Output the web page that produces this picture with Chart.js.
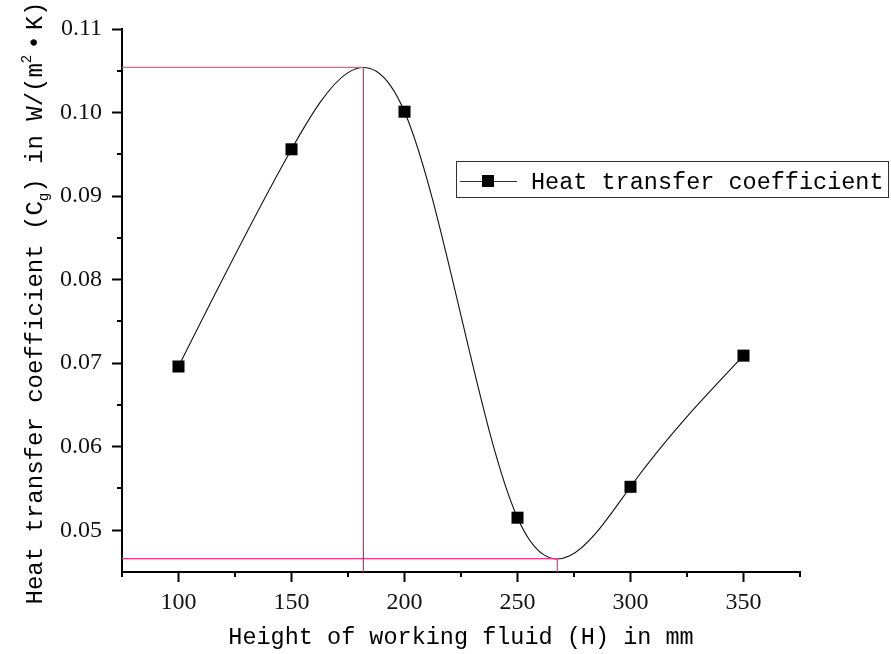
<!DOCTYPE html>
<html>
<head>
<meta charset="utf-8">
<script src="https://cdn.jsdelivr.net/npm/chart.js@4.4.0/dist/chart.umd.min.js"></script>
<style>
  html, body { margin: 0; padding: 0; background: #fff; }
  #wrap { width: 891px; height: 654px; position: relative; }
</style>
</head>
<body>
<div id="wrap"><canvas id="chart"></canvas></div>
<script>
// values
const heights = [100, 150, 200, 250, 300, 350];
const coefficients = [0.0696, 0.0956, 0.1001, 0.0515, 0.0552, 0.0709];

// maximum and minimum of the fitted curve (drop lines)
const peakH = 181.8, peakC = 0.1054;
const troughH = 267.6, troughC = 0.0466;

const xRange = [75, 375];
const yRange = [0.045, 0.11];
const xTicks = [100, 150, 200, 250, 300, 350];
const xMinorTicks = [75, 125, 175, 225, 275, 325, 375];
const yTicks = [0.05, 0.06, 0.07, 0.08, 0.09, 0.10, 0.11];
const yMinorTicks = [0.055, 0.065, 0.075, 0.085, 0.095, 0.105];

const monoFont = 'Liberation Mono';

// natural cubic spline second derivatives
function naturalSpline(xs, ys) {
  const n = xs.length;
  const h = [];
  for (let i = 0; i < n - 1; i++) h.push(xs[i + 1] - xs[i]);
  const a = [], b = [], c = [], d = [];
  for (let i = 1; i < n - 1; i++) {
    a.push(h[i - 1]);
    b.push(2 * (h[i - 1] + h[i]));
    c.push(h[i]);
    d.push(6 * ((ys[i + 1] - ys[i]) / h[i] - (ys[i] - ys[i - 1]) / h[i - 1]));
  }
  const k = d.length;
  for (let i = 1; i < k; i++) {
    const w = a[i] / b[i - 1];
    b[i] -= w * c[i - 1];
    d[i] -= w * d[i - 1];
  }
  const sol = new Array(k);
  sol[k - 1] = d[k - 1] / b[k - 1];
  for (let i = k - 2; i >= 0; i--) sol[i] = (d[i] - c[i] * sol[i + 1]) / b[i];
  const m = new Array(n).fill(0);
  for (let i = 0; i < k; i++) m[i + 1] = sol[i];
  return { h, m };
}

const curvePlugin = {
  id: 'curve',
  beforeDatasetsDraw(chart) {
    const { ctx, scales: { x, y } } = chart;
    const { h, m } = naturalSpline(heights, coefficients);
    ctx.save();
    ctx.beginPath();
    ctx.moveTo(x.getPixelForValue(heights[0]), y.getPixelForValue(coefficients[0]));
    for (let i = 0; i < heights.length - 1; i++) {
      const x0 = heights[i], x1 = heights[i + 1];
      const y0 = coefficients[i], y1 = coefficients[i + 1];
      const hi = h[i];
      const slope = (y1 - y0) / hi;
      const s0 = slope - hi * (2 * m[i] + m[i + 1]) / 6;
      const s1 = slope + hi * (m[i] + 2 * m[i + 1]) / 6;
      ctx.bezierCurveTo(
        x.getPixelForValue(x0 + hi / 3), y.getPixelForValue(y0 + s0 * hi / 3),
        x.getPixelForValue(x1 - hi / 3), y.getPixelForValue(y1 - s1 * hi / 3),
        x.getPixelForValue(x1), y.getPixelForValue(y1)
      );
    }
    ctx.lineWidth = 1.1;
    ctx.strokeStyle = '#111';
    ctx.stroke();
    ctx.restore();
  }
};

const decorPlugin = {
  id: 'decor',
  afterDraw(chart) {
    const { ctx, chartArea, scales: { x, y } } = chart;
    ctx.save();

    // minor ticks
    ctx.strokeStyle = '#000';
    ctx.lineWidth = 2;
    ctx.beginPath();
    xMinorTicks.forEach(v => {
      const px = Math.round(x.getPixelForValue(v));
      ctx.moveTo(px, chartArea.bottom);
      ctx.lineTo(px, chartArea.bottom + 5);
    });
    yMinorTicks.forEach(v => {
      const py = Math.round(y.getPixelForValue(v));
      ctx.moveTo(chartArea.left, py);
      ctx.lineTo(chartArea.left - 5, py);
    });
    ctx.stroke();

    // y axis title with subscript / superscript
    const runs = [
      { t: 'Heat transfer coefficient (C', size: 24, dy: 0 },
      { t: 'g', size: 14, dy: 6 },
      { t: ') in W/(m', size: 24, dy: 0 },
      { t: '2', size: 14, dy: -11 },
      { t: '•', size: 24, dy: 0, gap: 5 },
      { t: 'K)', size: 24, dy: 0, gap: 5 }
    ];
    let total = 0;
    runs.forEach(r => {
      ctx.font = r.size + 'px "' + monoFont + '"';
      r.w = ctx.measureText(r.t).width;
      total += r.w + (r.gap || 0);
    });
    ctx.translate(42, 303);
    ctx.rotate(-Math.PI / 2);
    ctx.fillStyle = '#000';
    ctx.textBaseline = 'alphabetic';
    let pos = -total / 2;
    runs.forEach(r => {
      pos += (r.gap || 0);
      ctx.font = r.size + 'px "' + monoFont + '"';
      ctx.fillText(r.t, pos, r.dy);
      pos += r.w;
    });
    ctx.setTransform(1, 0, 0, 1, 0, 0);

    // legend
    ctx.lineWidth = 1;
    ctx.strokeStyle = '#333';
    ctx.strokeRect(456.5, 161.5, 432, 36);
    ctx.beginPath();
    ctx.moveTo(460, 181.5);
    ctx.lineTo(517, 181.5);
    ctx.stroke();
    ctx.fillStyle = '#000';
    ctx.fillRect(482, 175, 12, 12);
    ctx.fillStyle = '#000';
    ctx.font = '23.5px "' + monoFont + '"';
    ctx.fillText(chart.data.datasets[0].label, 531, 189);

    ctx.restore();
  }
};

const ctx = document.getElementById('chart').getContext('2d');
new Chart(ctx, {
  type: 'scatter',
  data: {
    datasets: [
      {
        label: 'Heat transfer coefficient',
        data: heights.map((h, i) => ({ x: h, y: coefficients[i] })),
        showLine: false,
        pointStyle: 'rect',
        pointRadius: 8.5,
        pointBackgroundColor: '#000',
        pointBorderWidth: 0
      },
      {
        data: [{ x: xRange[0], y: peakC }, { x: peakH, y: peakC }],
        showLine: true, pointRadius: 0, borderWidth: 1.2, borderColor: '#f25c64'
      },
      {
        data: [{ x: peakH, y: peakC }, { x: peakH, y: yRange[0] }],
        showLine: true, pointRadius: 0, borderWidth: 1.2, borderColor: '#e2207a'
      },
      {
        data: [{ x: xRange[0], y: troughC }, { x: troughH, y: troughC }, { x: troughH, y: yRange[0] }],
        showLine: true, pointRadius: 0, borderWidth: 1.2, borderColor: '#ea3a8a'
      }
    ]
  },
  options: {
    responsive: true,
    maintainAspectRatio: false,
    animation: false,
    events: [],
    layout: { padding: { left: 0, right: 91, top: 29, bottom: 0 } },
    plugins: {
      legend: { display: false },
      tooltip: { enabled: false }
    },
    scales: {
      x: {
        type: 'linear',
        min: xRange[0],
        max: xRange[1],
        afterBuildTicks: s => { s.ticks = xTicks.map(v => ({ value: v })); },
        afterFit: s => { s.height = 82; },
        border: { display: true, color: '#000', width: 2 },
        grid: { display: true, drawOnChartArea: false, drawTicks: true, tickLength: 10, tickWidth: 2, tickColor: '#000' },
        ticks: {
          font: { family: 'Liberation Serif', size: 24 },
          color: '#111',
          padding: 6,
          maxRotation: 0,
          autoSkip: false,
          callback: v => String(v)
        },
        title: {
          display: true,
          text: 'Height of working fluid (H) in mm',
          font: { family: monoFont, size: 23.5 },
          color: '#000',
          padding: { top: 0, bottom: 2 }
        }
      },
      y: {
        type: 'linear',
        min: yRange[0],
        max: yRange[1],
        afterBuildTicks: s => { s.ticks = yTicks.map(v => ({ value: v })); },
        afterFit: s => { s.width = 122; },
        border: { display: true, color: '#000', width: 2 },
        grid: { display: true, drawOnChartArea: false, drawTicks: true, tickLength: 10, tickWidth: 2, tickColor: '#000' },
        ticks: {
          font: { family: 'Liberation Serif', size: 24 },
          color: '#111',
          padding: 10,
          autoSkip: false,
          callback: v => v.toFixed(2)
        }
      }
    }
  },
  plugins: [curvePlugin, decorPlugin]
});
</script>
</body>
</html>
